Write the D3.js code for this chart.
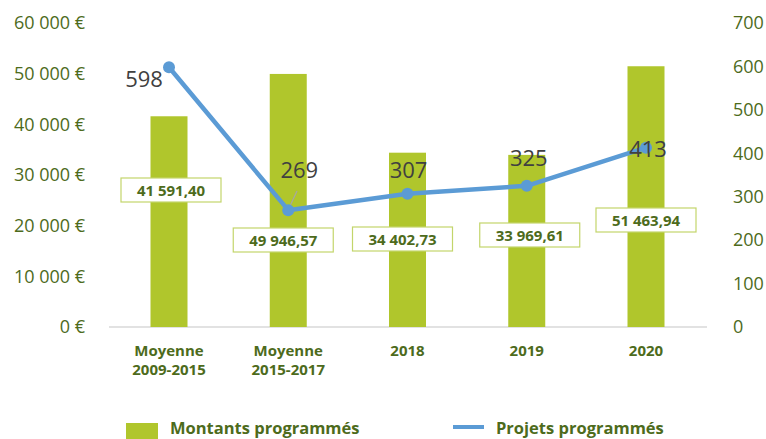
<!DOCTYPE html>
<html>
<head>
<meta charset="utf-8">
<script src="https://cdn.jsdelivr.net/npm/d3@7"></script>
<style>
  html, body { margin: 0; padding: 0; background: #fff; }
  svg { display: block; font-family: "Open Sans", "Noto Sans", sans-serif; }
</style>
</head>
<body>
<svg id="chart" width="766" height="439"></svg>
<script>
// Categories and series
const categories = [["Moyenne", "2009-2015"], ["Moyenne", "2015-2017"], ["2018"], ["2019"], ["2020"]];
const montants = [41591.40, 49946.57, 34402.73, 33969.61, 51463.94];
const projets = [598, 269, 307, 325, 413];
const leftTicks = [0, 10000, 20000, 30000, 40000, 50000, 60000];
const rightTicks = [0, 100, 200, 300, 400, 500, 600, 700];

// Label placement (pixel nudges for the boxed amount labels and the count labels)
const boxDx = [2, -5, -5, 3, 0];
const boxCy = [190, 240, 239, 235, 220];
const countDx = [-25, 11, 1, 2, 2];
const countDy = [12, -40, -24, -28, 1];

const green = "#b0c62c", darkGreen = "#4d6b1c", blue = "#5b9bd5", boxStroke = "#c3d56b";
const fmtAmount = v => d3.format(",.2f")(v).replace(/,/g, " ").replace(".", ",");
const fmtEuro = v => d3.format(",")(v).replace(/,/g, " ") + " €";

const svg = d3.select("#chart");
const keys = categories.map(c => c.join(" "));
const x = d3.scalePoint().domain(keys).range([169, 646]);
const barW = 37;
const yL = d3.scaleLinear().domain([0, 60000]).range([327, 23]);
const yR = d3.scaleLinear().domain([0, 700]).range([327, 23]);

// Left axis (amounts)
const leftAxis = svg.append("g").attr("transform", "translate(85,0)")
  .call(d3.axisLeft(yL).tickValues(leftTicks).tickFormat(fmtEuro).tickSize(0).tickPadding(0));
leftAxis.select(".domain").remove();
leftAxis.selectAll("text").attr("fill", darkGreen).style("font-size", "18px")
  .style("font-family", "'Open Sans', sans-serif");

// Right axis (project counts)
const rightAxis = svg.append("g").attr("transform", "translate(733,0)")
  .call(d3.axisRight(yR).tickValues(rightTicks).tickSize(0).tickPadding(0));
rightAxis.select(".domain").remove();
rightAxis.selectAll("text").attr("fill", darkGreen).style("font-size", "18px")
  .style("font-family", "'Open Sans', sans-serif");

// Baseline
svg.append("line").attr("x1", 109).attr("x2", 707).attr("y1", yL(0)).attr("y2", yL(0))
  .attr("stroke", "#d9d9d9").attr("stroke-width", 1.5);

// Bars
svg.append("g").selectAll("rect").data(montants).join("rect")
  .attr("x", (d, i) => x(keys[i]) - barW / 2)
  .attr("y", d => yL(d))
  .attr("width", barW)
  .attr("height", d => yL(0) - yL(d))
  .attr("fill", green);

// Category labels
const cat = svg.append("g");
categories.forEach((lines, i) => {
  const t = cat.append("text").attr("x", x(keys[i])).attr("y", 356)
    .attr("text-anchor", "middle").attr("fill", darkGreen)
    .style("font-size", "15px").style("font-weight", "bold");
  lines.forEach((l, j) => t.append("tspan").attr("x", x(keys[i])).attr("dy", j ? 19 : 0).text(l));
});

// Line of project counts
const line = d3.line().x((d, i) => x(keys[i])).y(d => yR(d));
svg.append("path").datum(projets).attr("d", line)
  .attr("fill", "none").attr("stroke", blue).attr("stroke-width", 4.5).attr("stroke-linejoin", "round");

// Amount labels in boxes
const boxes = svg.append("g");
montants.forEach((v, i) => {
  const cx = x(keys[i]) + boxDx[i], cy = boxCy[i];
  boxes.append("rect").attr("x", cx - 50).attr("y", cy - 12).attr("width", 100).attr("height", 24)
    .attr("fill", "#fff").attr("stroke", boxStroke).attr("stroke-width", 1.2);
  boxes.append("text").attr("x", cx).attr("y", cy + 5.5).attr("text-anchor", "middle")
    .attr("fill", darkGreen).style("font-size", "15px").style("font-weight", "bold")
    .text(fmtAmount(v));
});

// Leader lines for two count labels
[[290, 206, 297, 191], [527, 187, 529, 180]].forEach(([x1, y1, x2, y2]) => {
  svg.append("line").attr("x1", x1).attr("y1", y1).attr("x2", x2).attr("y2", y2)
    .attr("stroke", "#a6a6a6").attr("stroke-width", 1.2);
});

// Markers
svg.append("g").selectAll("circle").data(projets).join("circle")
  .attr("cx", (d, i) => x(keys[i])).attr("cy", d => yR(d)).attr("r", 6).attr("fill", blue);

// Count labels
svg.append("g").selectAll("text").data(projets).join("text")
  .attr("x", (d, i) => x(keys[i]) + countDx[i])
  .attr("y", (d, i) => yR(d) + countDy[i] + 8)
  .attr("text-anchor", "middle").attr("fill", "#404040")
  .style("font-size", "22px")
  .text(d => d);

// Legend
const lg = svg.append("g");
lg.append("rect").attr("x", 126).attr("y", 423).attr("width", 32).attr("height", 16).attr("fill", green);
lg.append("text").attr("x", 170).attr("y", 434).attr("fill", darkGreen)
  .style("font-size", "16.5px").style("font-weight", "bold").text("Montants programmés");
lg.append("line").attr("x1", 453).attr("x2", 484).attr("y1", 427).attr("y2", 427)
  .attr("stroke", blue).attr("stroke-width", 4);
lg.append("text").attr("x", 496).attr("y", 434).attr("fill", darkGreen)
  .style("font-size", "16.5px").style("font-weight", "bold").text("Projets programmés");
</script>
</body>
</html>
